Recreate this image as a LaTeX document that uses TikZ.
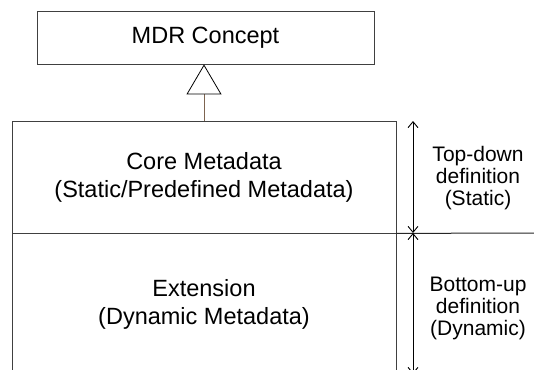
\documentclass[tikz,border=0pt]{standalone}
\usepackage{fontspec}
\setmainfont{Liberation Sans}
\usetikzlibrary{arrows.meta}

\definecolor{linkbrown}{RGB}{125,100,80}

\begin{document}
\begin{tikzpicture}
[x=1bp,y=-1bp,
 box/.style={draw=black!75,line width=0.8bp,inner sep=0pt,align=center,font=\fontsize{23.5bp}{28bp}\selectfont},
 note/.style={align=center,font=\fontsize{21bp}{22bp}\selectfont},
 span/.style={line width=0.9bp,{Straight Barb[length=6bp,width=10bp]}-{Straight Barb[length=6bp,width=10bp]}}]
\useasboundingbox (0,0) rectangle (534,369);
\clip (0,0) rectangle (534,369);

\node[box,minimum width=337bp,minimum height=53bp] (mdr) at (205.5,37.5) {MDR Concept};
\node[box,minimum width=384bp,minimum height=112bp] (core) at (204,177) {Core Metadata\\(Static/Predefined Metadata)};
\node[box,minimum width=384bp,minimum height=142bp] (ext) at (204,304) {Extension\\(Dynamic Metadata)};

\node[note] (topdown) at (478,178) {Top-down\\definition\\(Static)};
\node[note] (bottomup) at (478,308) {Bottom-up\\definition\\(Dynamic)};

\coordinate (edge) at (534,233);
\coordinate (s1) at (413,121);
\coordinate (s2) at (413,233);
\coordinate (s3) at (413,374);

\draw[linkbrown,line width=0.9bp,-{Triangle[length=30bp,width=35bp,fill=white,color=black,line width=0.8bp]}] (core.north) -- (core.north |- mdr.south);
\draw[line width=1bp,black!85] (core.south east) -- (edge);
\foreach \from/\to in {s1/s2,s2/s3}
\draw[span] (\from) -- (\to);
\end{tikzpicture}
\end{document}
